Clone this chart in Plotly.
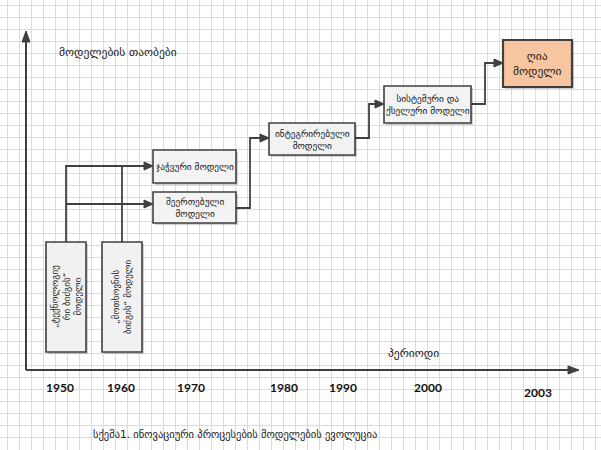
import plotly.graph_objects as go

# ---- data (text content) ----
years = ["1950", "1960", "1970", "1980", "1990", "2000", "2003"]
axis_y_title = "მოდელების თაობები"
axis_x_title = "პერიოდი"
caption = "სქემა1. ინოვაციური პროცესების მოდელების ევოლუცია"
early_models = ["„ტექნოლოგიუ<br>რი ბიძგის“<br>მოდელი", "„მოთხოვნის<br>ბიძგის“ მოდელი"]
later_models = ["ჯაჭვური მოდელი", "შეერთებული<br>მოდელი", "ინტეგრირებული<br>მოდელი",
                "სისტემური და<br>ქსელური მოდელი", "ღია<br>მოდელი"]

# ---- layout geometry (pixels) ----
W, H = 601, 450
year_pos = [(60, 387), (121, 387), (191, 387), (284, 387), (343, 387), (428, 387), (538, 392)]
early_boxes = [(46, 242, 86, 352), (102, 242, 142, 352)]
later_boxes = [(153, 150, 236, 183), (153, 192, 236, 223), (269, 123, 355, 155),
               (384, 86, 471, 123), (503, 40, 572, 87)]

LINE = "#404040"
GEO_FONT = "DejaVu Sans"

shapes = []
annotations = []

def line(points, width=1.8):
    d = "M " + " L ".join(f"{x},{y}" for x, y in points)
    shapes.append(dict(type="path", path=d, line=dict(color=LINE, width=width), layer="above"))

def arrowhead(x, y, direction, L=9, w=4):
    if direction == "right":
        pts = [(x, y), (x - L, y - w), (x - L, y + w)]
    else:  # up
        pts = [(x, y), (x - w, y + L), (x + w, y + L)]
    d = "M " + " L ".join(f"{a},{b}" for a, b in pts) + " Z"
    shapes.append(dict(type="path", path=d, fillcolor=LINE, line=dict(color=LINE, width=1), layer="above"))

def box(x0, y0, x1, y1, fill, bw=1.6):
    shapes.append(dict(type="rect", x0=x0 + 2, y0=y0 + 2, x1=x1 + 2, y1=y1 + 2,
                       fillcolor="rgba(0,0,0,0.18)", line=dict(width=0), layer="above"))
    shapes.append(dict(type="rect", x0=x0, y0=y0, x1=x1, y1=y1, fillcolor=fill,
                       line=dict(color=LINE, width=bw), layer="above"))

# axes
line([(26, 370), (26, 40)], 2)
arrowhead(26, 31, "up", L=11, w=4)
line([(26, 370), (570, 370)], 2)
arrowhead(579, 370, "right", L=11, w=4)

# connectors
line([(66, 242), (66, 166), (145, 166)])
line([(122, 242), (122, 166)])
arrowhead(153, 166, "right")
line([(66, 204), (145, 204)])
arrowhead(153, 204, "right")
line([(236, 208), (250, 208), (250, 138), (261, 138)])
arrowhead(269, 138, "right")
line([(355, 138), (369, 138), (369, 104), (376, 104)])
arrowhead(384, 104, "right")
line([(471, 104), (485, 104), (485, 63), (495, 63)])
arrowhead(503, 63, "right")

# boxes
for (x0, y0, x1, y1), txt in zip(early_boxes, early_models):
    box(x0, y0, x1, y1, "#f1f1f1")
    annotations.append(dict(x=(x0 + x1) / 2, y=(y0 + y1) / 2, text=txt, textangle=-90,
                            showarrow=False, font=dict(family=GEO_FONT, size=9, color="#1a1a1a"),
                            xref="x", yref="y"))
for i, ((x0, y0, x1, y1), txt) in enumerate(zip(later_boxes, later_models)):
    last = i == len(later_boxes) - 1
    box(x0, y0, x1, y1, "#f7c6a0" if last else "#f3f3f3", bw=2.2 if last else 1.6)
    annotations.append(dict(x=(x0 + x1) / 2, y=(y0 + y1) / 2, text=txt, showarrow=False,
                            font=dict(family=GEO_FONT, size=11.5 if last else 9.3, color="#1a1a1a"),
                            xref="x", yref="y"))

# labels
annotations.append(dict(x=118, y=52, text=axis_y_title, showarrow=False,
                        font=dict(family=GEO_FONT, size=11.5, color="#1a1a1a"), xref="x", yref="y"))
annotations.append(dict(x=413, y=353, text=axis_x_title, showarrow=False,
                        font=dict(family=GEO_FONT, size=11.5, color="#1a1a1a"), xref="x", yref="y"))
annotations.append(dict(x=235, y=434, text=caption, showarrow=False,
                        font=dict(family=GEO_FONT, size=10.5, color="#1a1a1a"), xref="x", yref="y"))
for (x, y), t in zip(year_pos, years):
    annotations.append(dict(x=x, y=y, text=f"<b>{t}</b>", showarrow=False,
                            font=dict(family="Lato", size=12, color="#111"), xref="x", yref="y"))

fig = go.Figure()
fig.add_trace(go.Scatter(x=[0], y=[0], mode="markers", marker=dict(opacity=0), hoverinfo="skip",
                         showlegend=False))
fig.update_layout(
    width=W, height=H, margin=dict(l=0, r=0, t=0, b=0),
    paper_bgcolor="white", plot_bgcolor="white",
    shapes=shapes, annotations=annotations, showlegend=False,
    xaxis=dict(range=[0, W], showticklabels=False, showgrid=True, gridcolor="#dcdcdc",
               gridwidth=1, tick0=7, dtick=12, zeroline=False, ticks="", fixedrange=True),
    yaxis=dict(range=[H, 0], showticklabels=False, showgrid=True, gridcolor="#dcdcdc",
               gridwidth=1, tick0=5, dtick=12, zeroline=False, ticks="", fixedrange=True),
)
fig.write_html("out.html", config={"displayModeBar": False},
               post_script="document.body.style.margin='0px';document.body.style.overflow='hidden';")
